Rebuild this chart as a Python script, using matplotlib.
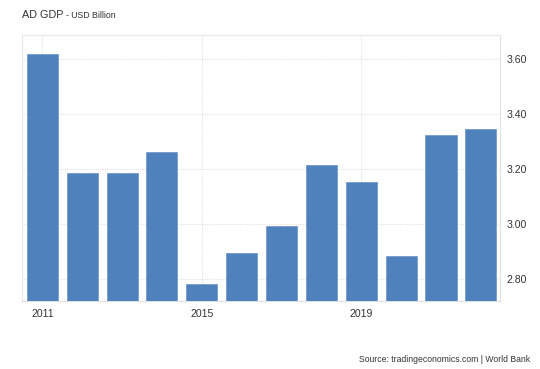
import matplotlib
matplotlib.use("Agg")
import matplotlib.pyplot as plt

plt.rcParams['font.family'] = ['Liberation Sans', 'DejaVu Sans']

years = [2011, 2012, 2013, 2014, 2015, 2016, 2017, 2018, 2019, 2020, 2021, 2022]
gdp = [3.62, 3.185, 3.185, 3.263, 2.782, 2.896, 2.994, 3.216, 3.154, 2.886, 3.325, 3.347]
ytick_vals = [2.80, 3.00, 3.20, 3.40, 3.60]
xtick_years = [2011, 2015, 2019]

fig = plt.figure(figsize=(5.4, 3.69), dpi=100)
ax = fig.add_axes([0.0407, 0.1843, 0.8853, 0.7207])

x = list(range(len(years)))
ax.bar(x, gdp, width=0.78, color="#4f81bd", edgecolor="#6a95c9", linewidth=0.5, zorder=3)

ax.set_ylim(2.721, 3.688)
ax.set_xlim(-0.51, 11.48)
ax.yaxis.tick_right()
ax.set_yticks(ytick_vals)
ax.set_yticklabels([f"{v:.2f}" for v in ytick_vals])
ax.set_xticks([years.index(y) for y in xtick_years])
ax.set_xticklabels([str(y) for y in xtick_years])
ax.tick_params(axis="both", length=0, labelsize=7.6, colors="#333333")
ax.tick_params(axis="y", pad=5)
ax.tick_params(axis="x", pad=6)

ax.grid(True, color="#e3e3e3", linestyle=(0, (1, 1)), linewidth=0.8, zorder=0)
for side in ["top", "left"]:
    ax.spines[side].set_color("#e8e8e8")
    ax.spines[side].set_linestyle((0, (1, 1)))
    ax.spines[side].set_linewidth(0.8)
ax.spines["right"].set_color("#e0e0e0")
ax.spines["right"].set_linewidth(0.8)
ax.spines["bottom"].set_color("#e0e0e0")
ax.spines["bottom"].set_linewidth(0.8)

fig.text(22 / 540, 0.9504, "AD GDP", fontsize=7.8, color="#333333", va="baseline", ha="left")
fig.text(66.5 / 540, 0.9504, "- USD Billion", fontsize=6.3, color="#333333", va="baseline", ha="left")
fig.text(530 / 540, 0.019, "Source: tradingeconomics.com | World Bank", fontsize=6.2,
         color="#333333", ha="right", va="baseline")

fig.savefig("out.png", dpi=100)
